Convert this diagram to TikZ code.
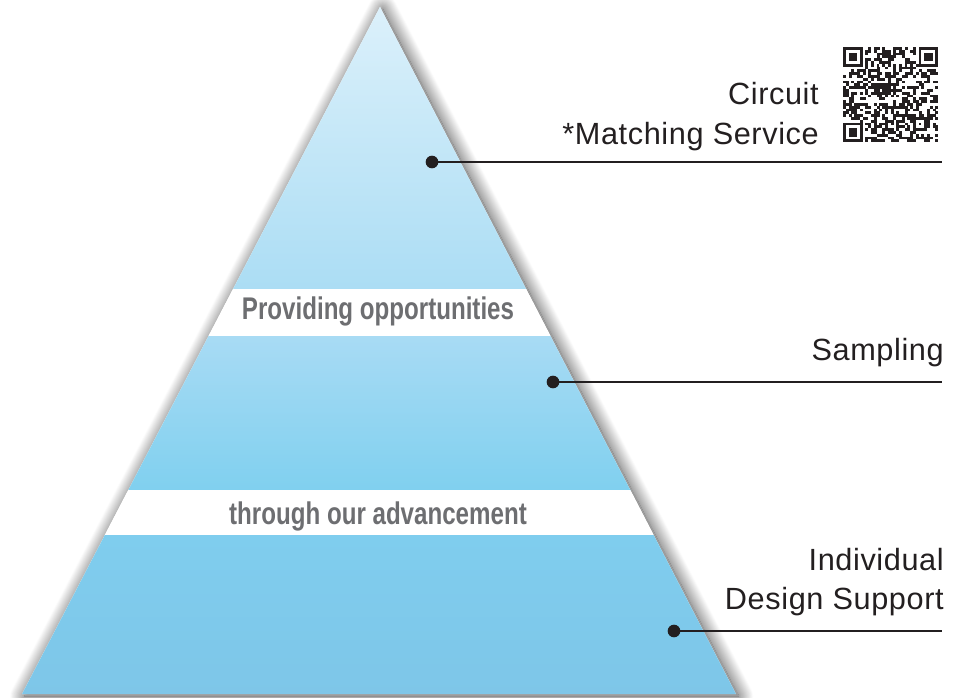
\documentclass[tikz,border=0pt]{standalone}
\usepackage{fontspec}
\setmainfont{Liberation Sans}
\newfontfamily\lightfont{Liberation Sans}[LetterSpace=2]
\newfontfamily\condfont{Liberation Sans Bold}[FakeStretch=0.77]
\usetikzlibrary{shadows.blur}
\definecolor{txt}{HTML}{231F20}
\definecolor{bandtxt}{HTML}{6D6E71}
\definecolor{ca}{HTML}{DDF1FB}
\definecolor{cb}{HTML}{ABDDF4}
\definecolor{cc}{HTML}{A8DBF4}
\definecolor{cd}{HTML}{80D0EF}
\definecolor{ce}{HTML}{7FCDEE}
\definecolor{cf}{HTML}{7EC6E8}
\tikzset{
  lbl/.style={inner sep=0pt, text=txt, font=\lightfont\fontsize{23}{27}\selectfont},
  bandlbl/.style={inner sep=0pt, text=bandtxt, font=\condfont\fontsize{23.5}{28}\selectfont},
  dotn/.style={circle, fill=txt, inner sep=0pt, minimum size=9.5pt},
  leader/.style={draw=txt, line width=2.1pt},
  qr/.style={fill=txt}
}
\def\qm{2.8}
\def\qx{843}
\def\qy{47}
\begin{document}
\begin{tikzpicture}[x=0.75pt,y=-0.75pt]
\useasboundingbox (0,0) rectangle (964,698);
\coordinate (apex) at (380,7);
\coordinate (bl) at (22,694);
\coordinate (br) at (736,694);
% pyramid with shadow
\path[fill=white, blur shadow={shadow xshift=2pt, shadow yshift=-1.5pt, shadow blur radius=11pt, shadow opacity=75, shadow blur steps=24}] (apex) -- (br) -- (bl) -- cycle;
\begin{scope}
  \clip (apex) -- (br) -- (bl) -- cycle;
  \shade[top color=ca, bottom color=cb] (0,0) rectangle (964,290);
  \shade[top color=cc, bottom color=cd] (0,336) rectangle (964,490);
  \shade[top color=ce, bottom color=cf] (0,535) rectangle (964,698);
  \fill[white] (0,289) rectangle (964,336);
  \fill[white] (0,490) rectangle (964,535);
\end{scope}
% band labels
\node[bandlbl, anchor=base] (b1) at (378,320) {Providing opportunities};
\node[bandlbl, anchor=base] (b2) at (378,524) {through our advancement};
% leaders
\node[dotn] (d1) at (432,162) {};
\node[dotn] (d2) at (553,382) {};
\node[dotn] (d3) at (674,631) {};
\coordinate (e1) at (942,162);
\coordinate (e2) at (942,382);
\coordinate (e3) at (942,631);
\draw[leader] (d1.center) -- (e1);
\draw[leader] (d2.center) -- (e2);
\draw[leader] (d3.center) -- (e3);
% labels
\node[lbl, anchor=base east] (t1) at (819,105) {Circuit};
\node[lbl, anchor=base east] (t2) at (819,145) {*Matching Service};
\node[lbl, anchor=base east] (t3) at (944,361) {Sampling};
\node[lbl, anchor=base east] (t4) at (944,570) {Individual};
\node[lbl, anchor=base east] (t5) at (944,609) {Design Support};
% QR code
\foreach \fx/\fy in {0/0,27/0,0/27}{
  \fill[qr] (\qx+\fx*\qm,\qy+\fy*\qm) rectangle ++(7*\qm,7*\qm);
  \fill[white] (\qx+\fx*\qm+\qm,\qy+\fy*\qm+\qm) rectangle ++(5*\qm,5*\qm);
  \fill[qr] (\qx+\fx*\qm+2*\qm,\qy+\fy*\qm+2*\qm) rectangle ++(3*\qm,3*\qm);
}
\fill[qr] (\qx+25*\qm,\qy+25*\qm) rectangle ++(5*\qm,5*\qm);
\fill[white] (\qx+26*\qm,\qy+26*\qm) rectangle ++(3*\qm,3*\qm);
\fill[qr] (\qx+27*\qm,\qy+27*\qm) rectangle ++(\qm,\qm);
\foreach \k in {8,10,...,26}{
  \fill[qr] (\qx+\k*\qm,\qy+6*\qm) rectangle ++(\qm,\qm);
  \fill[qr] (\qx+6*\qm,\qy+\k*\qm) rectangle ++(\qm,\qm);
}
\pgfmathsetseed{7}
\foreach \i in {0,...,33}{
  \foreach \j in {0,...,33}{
    \pgfmathtruncatemacro\skp{or(or(and(\i<8,\j<8),and(\i>25,\j<8)),or(and(\i<8,\j>25),or(and(and(\i>24,\i<30),and(\j>24,\j<30)),or(\i==6,\j==6))))}
    \pgfmathtruncatemacro\bit{rnd<0.5}
    \ifnum\skp=0 \ifnum\bit=1
      \fill[qr] (\qx+\i*\qm,\qy+\j*\qm) rectangle ++(2.9,2.9);
    \fi\fi
  }
}
\end{tikzpicture}
\end{document}
